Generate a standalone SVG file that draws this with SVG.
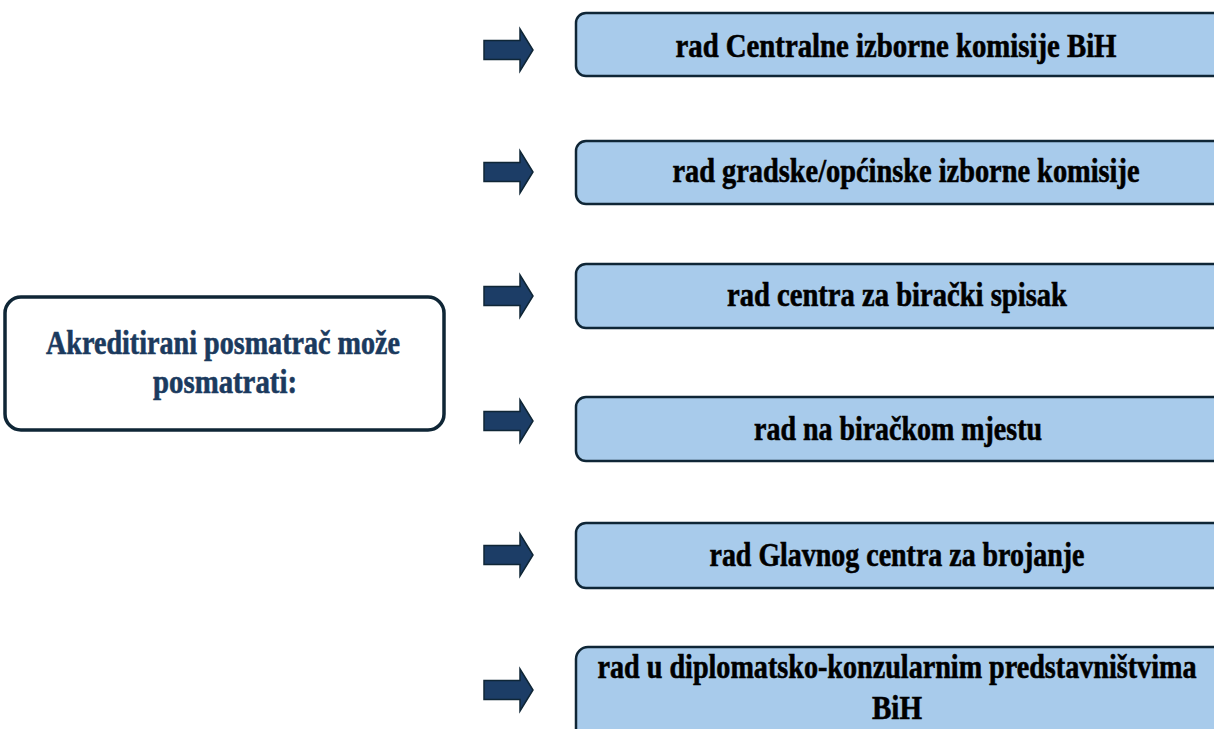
<svg xmlns="http://www.w3.org/2000/svg" width="1214" height="729" viewBox="0 0 1214 729">
<style>
.main{fill:#ffffff;stroke:#0f2636;stroke-width:3.5}
.box{fill:#a8cbeb;stroke:#0f2636;stroke-width:2.5}
.arr{fill:#1c3d66;stroke:#0f2636;stroke-width:1.5}
.t{font-family:"Liberation Serif","DejaVu Serif",serif;font-weight:bold;font-size:33px;fill:#000;stroke:#000;stroke-width:0.6}
.tm{font-family:"Liberation Serif","DejaVu Serif",serif;font-weight:bold;font-size:33px;fill:#1b3a5e;stroke:#1b3a5e;stroke-width:0.6}
</style>
<defs>
<polygon id="arrow" class="arr" points="0,-9.5 36,-9.5 36,-21 49,0 36,21 36,9.5 0,9.5"/>
</defs>
<g id="source">
<rect class="main" x="5" y="297" width="439" height="133" rx="16"/>
<text class="tm" x="223" y="354" text-anchor="middle" textLength="354" lengthAdjust="spacingAndGlyphs">Akreditirani posmatrač može</text>
<text class="tm" x="225" y="393" text-anchor="middle" textLength="144" lengthAdjust="spacingAndGlyphs">posmatrati:</text>
</g>
<g id="connectors">
<use href="#arrow" x="484" y="50"/>
<use href="#arrow" x="484" y="172"/>
<use href="#arrow" x="484" y="296"/>
<use href="#arrow" x="484" y="421"/>
<use href="#arrow" x="484" y="555"/>
<use href="#arrow" x="484" y="690"/>
</g>
<g id="n1">
<rect class="box" x="576" y="13" width="650" height="63" rx="10"/>
<text class="t" x="896" y="57" text-anchor="middle" textLength="441" lengthAdjust="spacingAndGlyphs">rad Centralne izborne komisije BiH</text>
</g>
<g id="n2">
<rect class="box" x="576" y="141" width="650" height="63" rx="10"/>
<text class="t" x="906" y="182" text-anchor="middle" textLength="467" lengthAdjust="spacingAndGlyphs">rad gradske/općinske izborne komisije</text>
</g>
<g id="n3">
<rect class="box" x="576" y="264" width="650" height="64" rx="10"/>
<text class="t" x="897" y="306" text-anchor="middle" textLength="340" lengthAdjust="spacingAndGlyphs">rad centra za birački spisak</text>
</g>
<g id="n4">
<rect class="box" x="576" y="397" width="650" height="64" rx="10"/>
<text class="t" x="898" y="440" text-anchor="middle" textLength="288" lengthAdjust="spacingAndGlyphs">rad na biračkom mjestu</text>
</g>
<g id="n5">
<rect class="box" x="576" y="523" width="650" height="65" rx="10"/>
<text class="t" x="897" y="566" text-anchor="middle" textLength="375" lengthAdjust="spacingAndGlyphs">rad Glavnog centra za brojanje</text>
</g>
<g id="n6">
<rect class="box" x="576" y="647" width="650" height="100" rx="12"/>
<text class="t" x="897" y="678" text-anchor="middle" textLength="599" lengthAdjust="spacingAndGlyphs">rad u diplomatsko-konzularnim predstavništvima</text>
<text class="t" x="897" y="719" text-anchor="middle" textLength="50" lengthAdjust="spacingAndGlyphs">BiH</text>
</g>
</svg>
